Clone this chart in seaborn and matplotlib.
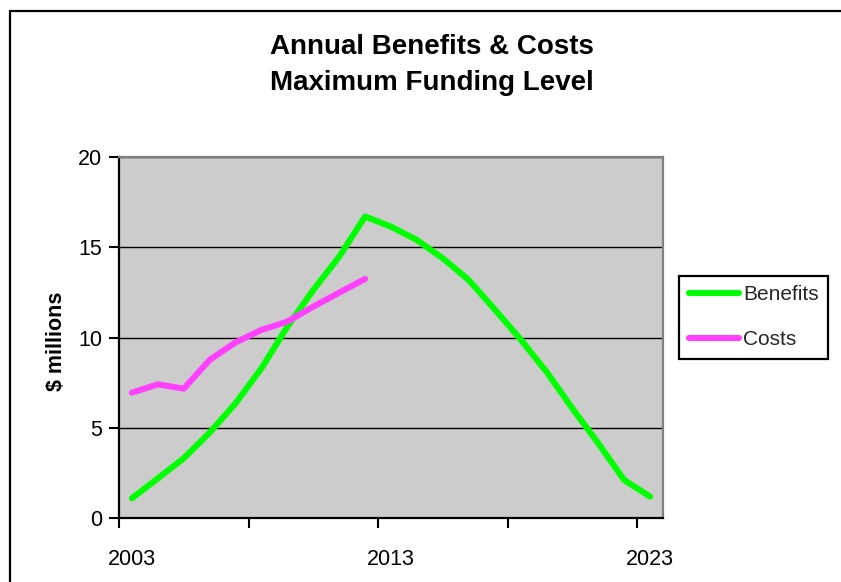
import matplotlib
matplotlib.use("Agg")
import matplotlib.pyplot as plt
from matplotlib.lines import Line2D
import seaborn as sns
import pandas as pd

# Annual values, $ millions
years = list(range(2003, 2024))
benefits = [1.11, 2.21, 3.32, 4.74, 6.36, 8.30, 10.60, 12.63, 14.47, 16.69,
            16.13, 15.39, 14.38, 13.18, 11.56, 9.90, 8.11, 6.08, 4.15, 2.12, 1.20]
cost_years = list(range(2003, 2013))
costs = [6.95, 7.41, 7.17, 8.76, 9.73, 10.42, 10.88, 11.71, 12.48, 13.24]

series_names = ["Benefits", "Costs"]
series_colors = {"Benefits": "#00FF00", "Costs": "#FF40FF"}
label_years = [2003, 2013, 2023]
title_lines = ["Annual Benefits & Costs", "Maximum Funding Level"]
y_label = "$ millions"

df = pd.concat([
    pd.DataFrame({"year": years, "value": benefits, "series": "Benefits"}),
    pd.DataFrame({"year": cost_years, "value": costs, "series": "Costs"}),
], ignore_index=True)

sns.set_theme(style="white")
plt.rcParams["font.family"] = ["Liberation Sans", "DejaVu Sans"]

W, H = 841, 582
fig = plt.figure(figsize=(W / 100, H / 100), dpi=100)
fig.patch.set_facecolor("white")

# plot area in pixel coordinates
x0, x1, ytop, ybot = 119, 663, 156.7, 518.3
ax = fig.add_axes([x0 / W, 1 - ybot / H, (x1 - x0) / W, (ybot - ytop) / H])
ax.set_facecolor("#CCCCCC")

sns.lineplot(data=df, x="year", y="value", hue="series", hue_order=series_names,
             palette=series_colors, linewidth=4.4, ax=ax, legend=False,
             solid_capstyle="round", solid_joinstyle="round", zorder=3)

ax.set_xlim(years[0] - 0.5, years[-1] + 0.5)
ax.set_ylim(0, 20)

# gridlines
ax.set_yticks([0, 5, 10, 15, 20])
ax.yaxis.grid(True, color="black", linewidth=1.0, zorder=1)
ax.xaxis.grid(False)
ax.set_axisbelow(True)

# tick marks between categories, labels on category centres
ax.set_xticks([years[0] - 0.5 + 5 * k for k in range(5)])
ax.set_xticklabels([])
ax.set_xticks(label_years, minor=True)
ax.set_xticklabels([str(y) for y in label_years], minor=True)
ax.tick_params(axis="x", which="major", direction="out", length=7, width=1.5,
               color="black", bottom=True)
ax.tick_params(axis="x", which="minor", length=0, pad=22, labelsize=15.5,
               labelcolor="black", bottom=True)
ax.tick_params(axis="y", which="major", direction="out", length=7, width=1.5,
               color="black", pad=5, labelsize=15.5, labelcolor="black", left=True)

for side in ["left", "bottom"]:
    ax.spines[side].set_color("black")
    ax.spines[side].set_linewidth(1.6)
for side in ["top", "right"]:
    ax.spines[side].set_color("#808080")
    ax.spines[side].set_linewidth(1.6)

ax.set_xlabel("")
ax.set_ylabel("")

# titles and axis label
fig.text(431.5 / W, 1 - 47 / H, title_lines[0], ha="center", va="center",
         fontsize=20, fontweight="bold", color="black")
fig.text(431.5 / W, 1 - 83 / H, title_lines[1], ha="center", va="center",
         fontsize=20, fontweight="bold", color="black")
fig.text(57 / W, 1 - 341.7 / H, y_label, rotation=90, ha="center", va="center",
         fontsize=15.5, fontweight="bold", color="black")

# legend
handles = [Line2D([0], [0], color=series_colors[n], linewidth=4.4,
                  solid_capstyle="round") for n in series_names]
leg = fig.legend(handles, series_names, loc="upper left",
                 bbox_to_anchor=(679.3 / W, 1 - 276 / H), fontsize=15,
                 frameon=True, fancybox=False, shadow=False, borderpad=0.45,
                 handlelength=2.4, handletextpad=0.2, labelspacing=1.25,
                 borderaxespad=0)
leg.get_frame().set_edgecolor("black")
leg.get_frame().set_linewidth(1.6)
leg.get_frame().set_facecolor("white")
leg.get_frame().set_alpha(1)

# outer chart frame (left and top edges)
fig.add_artist(Line2D([10 / W, 10 / W], [0, 1 - 11 / H], color="black",
                      linewidth=1.6, transform=fig.transFigure))
fig.add_artist(Line2D([10 / W, 1], [1 - 11 / H, 1 - 11 / H], color="black",
                      linewidth=1.6, transform=fig.transFigure))

fig.savefig("out.png", dpi=100, facecolor="white")
